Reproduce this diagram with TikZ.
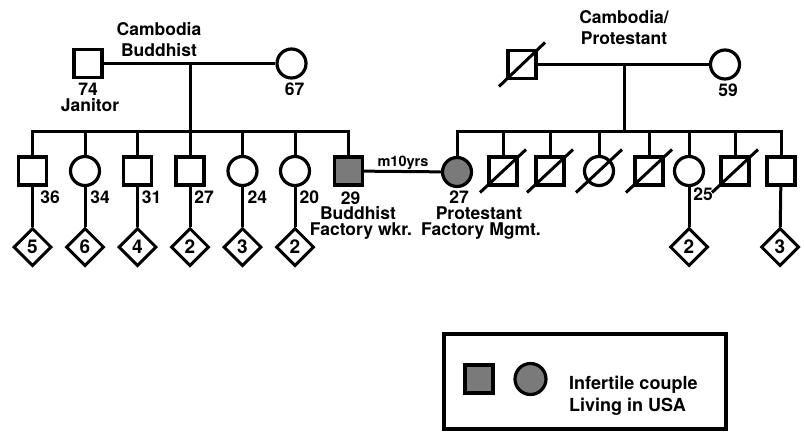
\documentclass[tikz,border=0pt]{standalone}
\usepackage{fontspec}
\setmainfont{TeX Gyre Heros}
\usetikzlibrary{shapes.geometric}
\definecolor{affgray}{RGB}{122,122,122}
\newcommand{\lblfont}{\fontsize{17.5}{20}\selectfont\bfseries}
\newcommand{\kidfont}{\fontsize{19}{22}\selectfont\bfseries}
\newcommand{\smallfont}{\fontsize{14.5}{17}\selectfont\bfseries}
\newcommand{\legfont}{\fontsize{18}{21}\selectfont\bfseries}
\tikzset{
  ln/.style={line width=3pt},
  male/.style={draw, rectangle, line width=3.2pt, minimum size=28pt, inner sep=0pt},
  female/.style={draw, circle, line width=3.2pt, minimum size=29pt, inner sep=0pt},
  aff/.style={fill=affgray},
  kids/.style={draw, diamond, line width=3pt, minimum width=38pt, minimum height=38pt, inner sep=0pt, font=\kidfont},
  lbl/.style={font=\lblfont, anchor=base, inner sep=0pt},
  leglbl/.style={font=\legfont, anchor=base west, inner sep=0pt},
}
\begin{document}
\begin{tikzpicture}[x=1pt,y=-1pt]
\useasboundingbox (0,0) rectangle (805,432);

% ---------- left grandparents ----------
\node[male] (gfL) at (88,63.5) {};
\node[female] (gmL) at (291.5,63.5) {};
\draw[ln] (gfL) -- (gmL);
\node[lbl] (tCamB1) at (159,35.7) {Cambodia};
\node[lbl] (tCamB2) at (159,56.5) {Buddhist};
\node[lbl] (t74) at (88,95) {74};
\node[lbl] (tJan) at (90,111) {Janitor};
\node[lbl] (t67) at (294.5,95) {67};

% ---------- right grandparents ----------
\node[male] (gfR) at (522,64.5) {};
\node[female] (gmR) at (725,64.5) {};
\draw[ln] (gfR) -- (gmR);
\draw[ln] ([shift={(-23,22)}]gfR.center) -- ([shift={(23,-22)}]gfR.center);
\node[lbl] (tCamP1) at (624,23.5) {Cambodia/};
\node[lbl] (tCamP2) at (624,44) {Protestant};
\node[lbl] (t59) at (728,96.5) {59};

% ---------- left sibship ----------
\node[male] (c1) at (32.5,171) {};
\node[female] (c2) at (85,171) {};
\node[male] (c3) at (137.5,171) {};
\node[male] (c4) at (190,171) {};
\node[female] (c5) at (242.5,171) {};
\node[female] (c6) at (295,171) {};
\node[male,aff] (c7) at (348.5,171) {};

\coordinate (dL) at (190,63.5);
\coordinate (sL) at (190,131);
\draw[ln] (dL) -- (sL);
\draw[ln] (c1) -- (c1|-sL) -- (c7|-sL) -- (c7);
\foreach \c in {c2,c3,c4,c5,c6}{\draw[ln] (\c|-sL) -- (\c);}

\node[lbl] (a1) at (50,203.5) {36};
\node[lbl] (a2) at (100,203.5) {34};
\node[lbl] (a3) at (151.7,203.5) {31};
\node[lbl] (a4) at (204,203.5) {27};
\node[lbl] (a5) at (257.3,203.5) {24};
\node[lbl] (a6) at (309.3,203.5) {20};
\node[lbl] (a7) at (350.7,204.5) {29};
\node[lbl] (tBud) at (358,219.5) {Buddhist};
\node[lbl] (tFw) at (361,235) {Factory wkr.};

\node[kids] (k1) at (32.5,247) {5};
\node[kids] (k2) at (85,247) {6};
\node[kids] (k3) at (137.5,247) {4};
\node[kids] (k4) at (190,247) {2};
\node[kids] (k5) at (242.5,247) {3};
\node[kids] (k6) at (295,247) {2};
\foreach \i in {1,...,6}{\draw[ln] (c\i) -- (k\i);}

% ---------- right sibship ----------
\node[female,aff] (r1) at (457,172) {};
\node[male] (r2) at (503,171) {};
\node[male] (r3) at (550,171) {};
\node[female] (r4) at (599,171) {};
\node[male] (r5) at (649,171) {};
\node[female] (r6) at (689,171) {};
\node[male] (r7) at (735,171) {};
\node[male] (r8) at (781,171) {};
\foreach \r in {r2,r3,r4,r5,r7}{
  \draw[ln] ([shift={(-23,21.5)}]\r.center) -- ([shift={(23,-21.5)}]\r.center);
}

\coordinate (dR) at (624,64.5);
\coordinate (sR) at (624,131);
\draw[ln] (dR) -- (sR);
\draw[ln] (r1) -- (r1|-sR) -- (r8|-sR) -- (r8);
\foreach \r in {r2,r3,r4,r5,r6,r7}{\draw[ln] (\r|-sR) -- (\r);}

\node[lbl] (b1) at (459,203) {27};
\node[lbl] (tProt) at (479,219.5) {Protestant};
\node[lbl] (tFm) at (481,235) {Factory Mgmt.};
\node[lbl] (b6) at (703,200) {25};

\node[kids] (q6) at (689,247) {2};
\node[kids] (q8) at (780,247) {3};
\draw[ln] (r6) -- (q6);
\draw[ln] (r8) -- (q8);

% ---------- couple ----------
\draw[ln] (c7) -- (r1);
\node[font=\smallfont, anchor=base, inner sep=0pt] (tm) at (403,166) {m10yrs};

% ---------- legend ----------
\node[draw, line width=3.5pt, minimum width=282pt, minimum height=95pt, inner sep=0pt] (leg) at (585,381.5) {};
\node[male,aff] (lsq) at (479,379) {};
\node[female,aff, minimum size=31pt] (lci) at (530.5,379) {};
\node[leglbl] (lt1) at (569,389) {Infertile couple};
\node[leglbl] (lt2) at (569,411) {Living in USA};
\end{tikzpicture}
\end{document}
